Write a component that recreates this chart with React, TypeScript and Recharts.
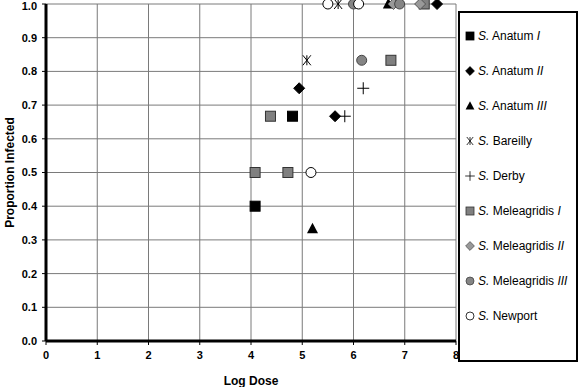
import React from "react"
import {
  ScatterChart,
  Scatter,
  XAxis,
  YAxis,
  CartesianGrid,
  Label
} from "recharts"

// Log dose vs proportion infected, one pair of arrays per strain
const anatum1Dose = [4.08, 4.81]
const anatum1Prop = [0.4, 0.667]
const anatum2Dose = [4.94, 5.64, 7.63]
const anatum2Prop = [0.75, 0.667, 1.0]
const anatum3Dose = [5.2, 6.68]
const anatum3Prop = [0.333, 1.0]
const bareillyDose = [5.09, 5.7]
const bareillyProp = [0.833, 1.0]
const derbyDose = [5.83, 6.19]
const derbyProp = [0.667, 0.75]
const mel1Dose = [4.08, 4.72, 4.38, 6.73, 7.38]
const mel1Prop = [0.5, 0.5, 0.667, 0.833, 1.0]
const mel2Dose = [6.78, 7.3]
const mel2Prop = [1.0, 1.0]
const mel3Dose = [6.0, 6.16, 6.9]
const mel3Prop = [1.0, 0.833, 1.0]
const newportDose = [5.17, 5.5, 6.1]
const newportProp = [0.5, 1.0, 1.0]

const xTicks = [0, 1, 2, 3, 4, 5, 6, 7, 8]
const yTicks = [0, 0.1, 0.2, 0.3, 0.4, 0.5, 0.6, 0.7, 0.8, 0.9, 1.0]

const pts = (xs: number[], ys: number[]) => xs.map((x, i) => ({ x, y: ys[i] }))

const font = "Arial, 'Liberation Sans', sans-serif"

type M = { cx: number; cy: number }

const SquareM = ({ cx, cy, fill, stroke }: M & { fill: string; stroke: string }) => (
  <rect x={cx - 5} y={cy - 5} width={10} height={10} fill={fill} stroke={stroke} strokeWidth={1} />
)
const DiamondM = ({ cx, cy, fill, stroke }: M & { fill: string; stroke: string }) => (
  <path d={`M${cx},${cy - 5.5}L${cx + 5.5},${cy}L${cx},${cy + 5.5}L${cx - 5.5},${cy}Z`} fill={fill} stroke={stroke} strokeWidth={1} />
)
const TriangleM = ({ cx, cy }: M) => (
  <path d={`M${cx},${cy - 6}L${cx + 5.5},${cy + 4.5}L${cx - 5.5},${cy + 4.5}Z`} fill="#000" />
)
const StarM = ({ cx, cy }: M) => (
  <path d={`M${cx - 4},${cy - 5}L${cx + 4},${cy + 5}M${cx + 4},${cy - 5}L${cx - 4},${cy + 5}M${cx},${cy - 5}L${cx},${cy + 5}`} stroke="#000" strokeWidth={1} fill="none" />
)
const PlusM = ({ cx, cy }: M) => (
  <path d={`M${cx - 6},${cy}L${cx + 6},${cy}M${cx},${cy - 6}L${cx},${cy + 6}`} stroke="#000" strokeWidth={1} fill="none" />
)
const CircleM = ({ cx, cy, fill, stroke }: M & { fill: string; stroke: string }) => (
  <circle cx={cx} cy={cy} r={5} fill={fill} stroke={stroke} strokeWidth={1} />
)

const series = [
  { key: "a1", name: "Anatum", num: "I", data: pts(anatum1Dose, anatum1Prop), mark: (p: M) => <SquareM {...p} fill="#000" stroke="#000" /> },
  { key: "a2", name: "Anatum", num: "II", data: pts(anatum2Dose, anatum2Prop), mark: (p: M) => <DiamondM {...p} fill="#000" stroke="#000" /> },
  { key: "a3", name: "Anatum", num: "III", data: pts(anatum3Dose, anatum3Prop), mark: (p: M) => <TriangleM {...p} /> },
  { key: "b", name: "Bareilly", num: "", data: pts(bareillyDose, bareillyProp), mark: (p: M) => <StarM {...p} /> },
  { key: "d", name: "Derby", num: "", data: pts(derbyDose, derbyProp), mark: (p: M) => <PlusM {...p} /> },
  { key: "m1", name: "Meleagridis", num: "I", data: pts(mel1Dose, mel1Prop), mark: (p: M) => <SquareM {...p} fill="#808080" stroke="#333" /> },
  { key: "m2", name: "Meleagridis", num: "II", data: pts(mel2Dose, mel2Prop), mark: (p: M) => <DiamondM {...p} fill="#999" stroke="#555" /> },
  { key: "m3", name: "Meleagridis", num: "III", data: pts(mel3Dose, mel3Prop), mark: (p: M) => <CircleM {...p} fill="#858585" stroke="#444" /> },
  { key: "n", name: "Newport", num: "", data: pts(newportDose, newportProp), mark: (p: M) => <CircleM {...p} fill="#fff" stroke="#000" /> },
]

const tickStyle = { fontFamily: font, fontSize: 11, fontWeight: "bold" as const, fill: "#000" }

export default function App() {
  return (
    <div style={{ position: "absolute", left: 0, top: 0, width: 582, height: 387, background: "#fff" }}>
      <ScatterChart width={582} height={387} margin={{ top: 4, right: 126, bottom: 0, left: 0 }}>
        <CartesianGrid stroke="#7a7a7a" strokeWidth={1} horizontalValues={yTicks} verticalValues={xTicks} />
        <XAxis
          type="number"
          dataKey="x"
          domain={[0, 8]}
          ticks={xTicks}
          height={46}
          axisLine={{ stroke: "#000", strokeWidth: 3 }}
          tickLine={{ stroke: "#000" }}
          tickSize={4}
          tickMargin={6}
          tick={tickStyle}
        >
          <Label value="Log Dose" position="insideBottom" offset={2} style={{ fontFamily: font, fontSize: 12, fontWeight: "bold", fill: "#000" }} />
        </XAxis>
        <YAxis
          type="number"
          dataKey="y"
          domain={[0, 1]}
          ticks={yTicks}
          width={46}
          axisLine={{ stroke: "#000", strokeWidth: 3 }}
          tickLine={{ stroke: "#000" }}
          tickSize={4}
          tickMargin={5}
          tick={tickStyle}
          tickFormatter={(v: number) => v.toFixed(1)}
        >
          <Label value="Proportion Infected" angle={-90} position="center" dx={-13} style={{ fontFamily: font, fontSize: 12, fontWeight: "bold", fill: "#000", textAnchor: "middle" }} />
        </YAxis>
        {series.map((s) => (
          <Scatter
            key={s.key}
            name={s.name}
            data={s.data}
            isAnimationActive={false}
            shape={(p: any) => s.mark({ cx: p.cx, cy: p.cy })}
          />
        ))}
      </ScatterChart>

      <div
        style={{
          position: "absolute",
          left: 458,
          top: 11,
          width: 116,
          height: 342,
          border: "2px solid #000",
          background: "#fff",
          paddingTop: 5,
          boxSizing: "content-box",
          fontFamily: font,
          fontSize: 12,
          color: "#000",
        }}
      >
        {series.map((s) => (
          <div key={s.key} style={{ height: 35, display: "flex", alignItems: "center", whiteSpace: "nowrap" }}>
            <svg width={12} height={12} style={{ marginLeft: 4, marginRight: 2, flex: "none" }}>
              <g transform="translate(6,6) scale(0.8)">{s.mark({ cx: 0, cy: 0 })}</g>
            </svg>
            <span>
              <i>S.</i> {s.name}
              {s.num ? <> <i>{s.num}</i></> : null}
            </span>
          </div>
        ))}
      </div>
    </div>
  )
}
